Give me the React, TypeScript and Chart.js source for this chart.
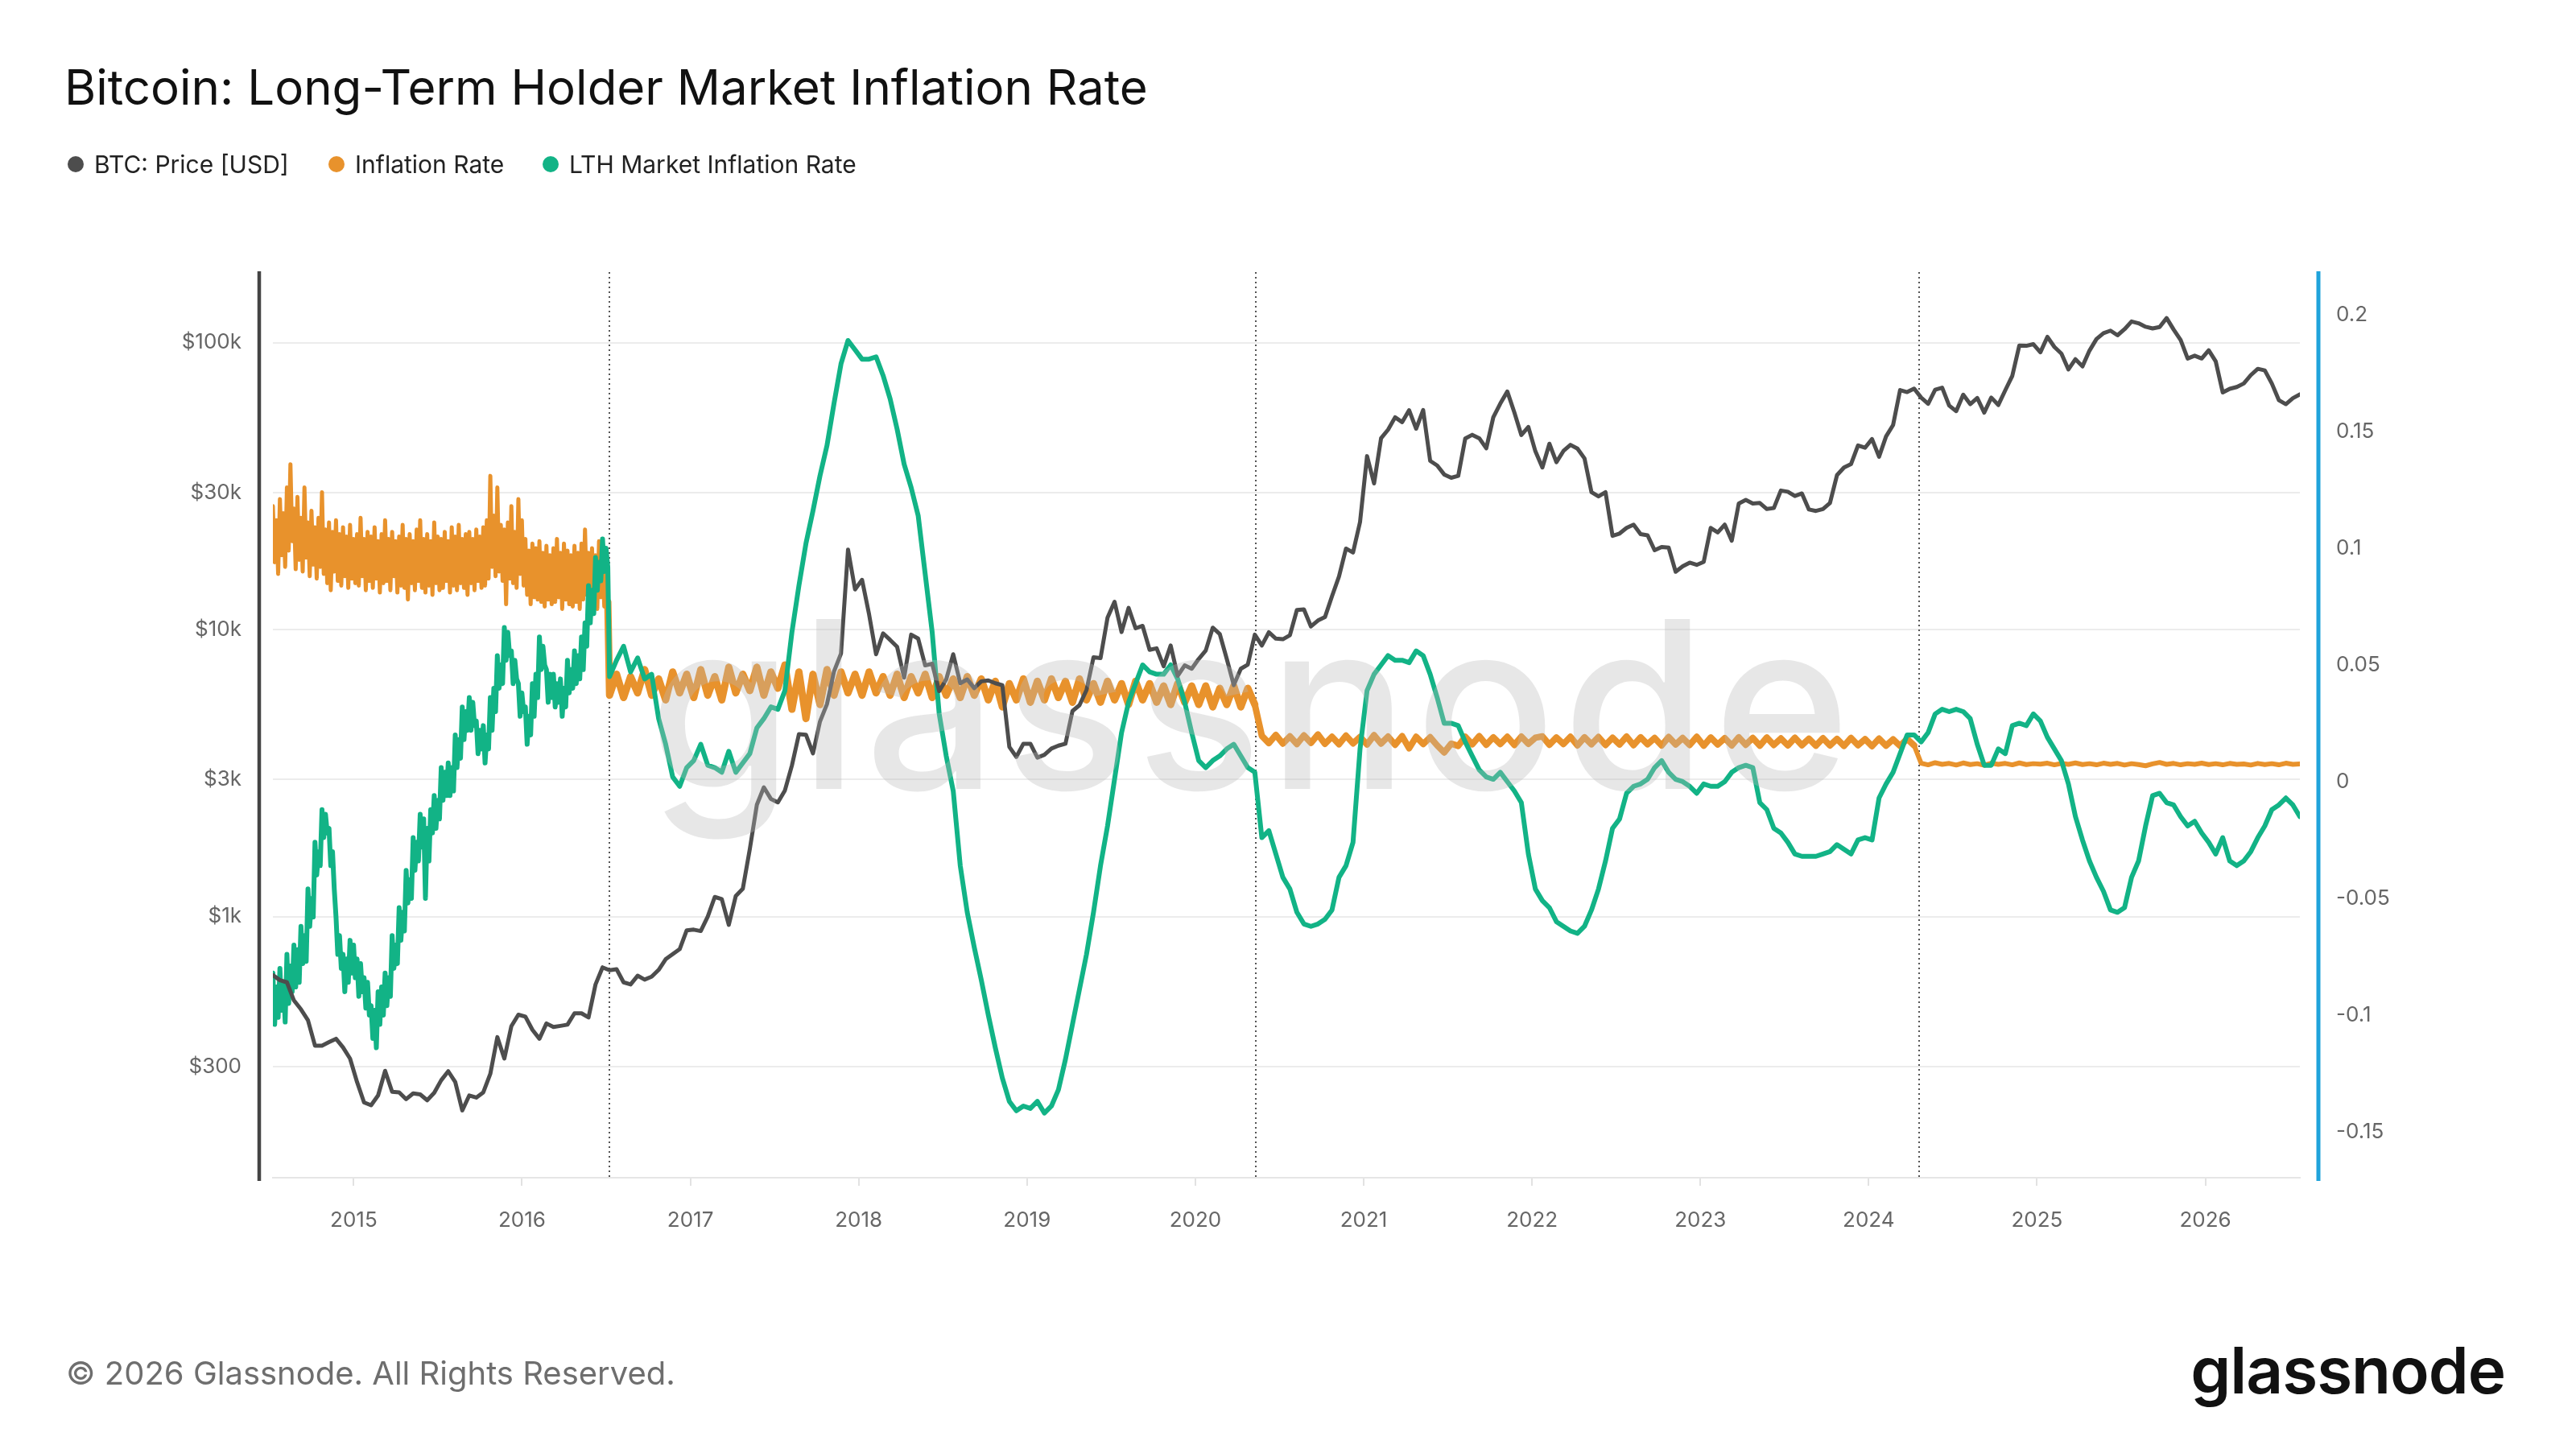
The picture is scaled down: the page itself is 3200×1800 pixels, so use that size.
import React, { useEffect, useRef } from 'react';
import { Chart, registerables } from 'chart.js';

Chart.register(...registerables);

// Half-monthly sampling starting 9 Jul 2014 (decimal years)
const START_YEAR = 2014.52;
const STEP_YEARS = 1 / 24;
// Dense sampling (~3.8 days) for the noisy first epoch, 2014.52 - 2016.52
const DENSE_STEP_YEARS = 1 / 96;
const LATER_START_YEAR = 2014.52 + 48 / 24;

const btcPrice = [
  // 2014 Jul-Dec
  625, 600, 590, 510, 475, 435, 355, 355, 365, 375, 350, 320,
  // 2015
  265, 225, 220, 238, 290, 245, 244, 231, 242, 240, 229, 243,
  269, 289, 265, 211, 238, 234, 244, 283, 380, 320, 415, 455,
  // 2016
  448, 403, 375, 424, 412, 416, 420, 460, 460, 445, 580, 665,
  650, 655, 590, 580, 622, 603, 617, 652, 710, 740, 770, 895,
  // 2017
  900, 890, 1000, 1170, 1150, 935, 1180, 1250, 1720, 2450, 2820, 2570,
  2500, 2750, 3360, 4320, 4300, 3700, 4780, 5500, 7140, 8250, 19000, 13800,
  // 2018
  14900, 11300, 8200, 9700, 9200, 8700, 6800, 9600, 9300, 7500, 7600, 6100,
  6700, 8200, 6500, 6700, 6250, 6600, 6650, 6500, 6400, 3900, 3600, 4000,
  // 2019
  4000, 3580, 3660, 3850, 3940, 4000, 5200, 5450, 6150, 8000, 7950, 11000,
  12500, 9800, 11900, 10100, 10300, 8500, 8600, 7450, 8800, 6900, 7500, 7300,
  // 2020
  7900, 8450, 10150, 9650, 7900, 6400, 7300, 7550, 9600, 8800, 9780, 9300,
  9250, 9550, 11700, 11750, 10250, 10750, 11050, 13050, 15300, 19150, 18550, 23700,
  // 2021
  40200, 32300, 46400, 49700, 54900, 52800, 58100, 50100, 58200, 38700, 37300, 34700,
  33800, 34300, 46300, 47700, 46400, 42800, 54900, 61300, 67500, 57100, 47600, 50800,
  // 2022
  41800, 36700, 44400, 38300, 41900, 44000, 42700, 39500, 30100, 29100, 30100, 21200,
  21600, 22600, 23200, 21500, 21300, 18900, 19400, 19300, 15900, 16600, 17100, 16800,
  // 2023
  17200, 22600, 21800, 23200, 20400, 27500, 28300, 27500, 27600, 26300, 26500, 30500,
  30200, 29200, 29800, 26200, 25900, 26300, 27600, 34500, 36700, 37700, 43800, 43000,
  // 2024
  46100, 40000, 47100, 51600, 68300, 67200, 69100, 64300, 61200, 68500, 69600, 60300,
  57700, 65800, 61000, 64100, 57000, 64300, 60600, 68200, 76600, 97700, 97400, 98700,
  // 2025
  92500, 104700, 96500, 91500, 80600, 87500, 82600, 93700, 102900, 107800, 110000, 106000,
  111300, 118400, 116700, 113500, 112000, 113300, 121700, 111000, 102000, 88000, 90000, 88000,
  // 2026 Jan-Jul
  94000, 86000, 67000, 69000, 70000, 72000, 77000, 81000, 80000, 72000, 63000, 61000, 64000, 66000,
];

// Inflation rate, first epoch (dense), one row per month
const inflationRateEarly = [
  0.118, 0.094, 0.112, 0.089, 0.121, 0.097, 0.115, 0.092,
  0.126, 0.099, 0.136, 0.103, 0.117, 0.091, 0.122, 0.095,
  0.113, 0.090, 0.126, 0.096, 0.111, 0.088, 0.116, 0.093,
  0.109, 0.087, 0.113, 0.092, 0.124, 0.089, 0.108, 0.085,
  0.111, 0.082, 0.107, 0.090, 0.112, 0.086, 0.106, 0.084,
  0.109, 0.088, 0.105, 0.083, 0.110, 0.087, 0.104, 0.085,
  0.106, 0.084, 0.113, 0.088, 0.104, 0.082, 0.107, 0.086,
  0.105, 0.083, 0.109, 0.087, 0.103, 0.081, 0.106, 0.085,
  0.112, 0.086, 0.104, 0.082, 0.107, 0.088, 0.103, 0.081,
  0.105, 0.084, 0.110, 0.083, 0.104, 0.078, 0.106, 0.085,
  0.103, 0.082, 0.108, 0.086, 0.112, 0.083, 0.104, 0.081,
  0.106, 0.084, 0.103, 0.080, 0.111, 0.085, 0.105, 0.082,
  0.104, 0.083, 0.107, 0.086, 0.103, 0.081, 0.109, 0.084,
  0.105, 0.082, 0.110, 0.085, 0.104, 0.083, 0.106, 0.080,
  0.107, 0.085, 0.104, 0.082, 0.108, 0.086, 0.105, 0.083,
  0.109, 0.084, 0.112, 0.087, 0.131, 0.092, 0.114, 0.088,
  0.126, 0.090, 0.110, 0.086, 0.108, 0.076, 0.111, 0.087,
  0.118, 0.085, 0.107, 0.083, 0.121, 0.089, 0.112, 0.084,
  0.104, 0.080, 0.099, 0.076, 0.102, 0.079, 0.100, 0.078,
  0.103, 0.077, 0.098, 0.075, 0.101, 0.078, 0.097, 0.076,
  0.100, 0.077, 0.104, 0.079, 0.098, 0.074, 0.102, 0.078,
  0.099, 0.076, 0.097, 0.075, 0.101, 0.077, 0.098, 0.074,
  0.102, 0.078, 0.108, 0.080, 0.098, 0.075, 0.100, 0.077,
  0.097, 0.074, 0.103, 0.079, 0.096, 0.075, 0.099, 0.077,
];

// Inflation rate from the 2016 halving on (half-monthly)
const inflationRate = [
  // 2016 - 2020 epoch
  0.037, 0.046, 0.036, 0.045, 0.038, 0.048, 0.037, 0.044, 0.035, 0.047,
  0.038, 0.046, 0.036, 0.048, 0.037, 0.045, 0.035, 0.049, 0.038, 0.046,
  0.039, 0.049, 0.037, 0.047, 0.040, 0.050, 0.031, 0.047, 0.027, 0.046,
  0.033, 0.048, 0.037, 0.047, 0.038, 0.046, 0.037, 0.047, 0.038, 0.045,
  0.037, 0.046, 0.036, 0.045, 0.038, 0.046, 0.036, 0.045, 0.037, 0.044,
  0.036, 0.045, 0.037, 0.044, 0.035, 0.043, 0.032, 0.042, 0.035, 0.044,
  0.034, 0.043, 0.035, 0.044, 0.036, 0.043, 0.034, 0.044, 0.035, 0.042,
  0.034, 0.043, 0.035, 0.042, 0.033, 0.043, 0.035, 0.042, 0.034, 0.041,
  0.033, 0.042, 0.034, 0.041, 0.033, 0.041, 0.032, 0.040, 0.033, 0.041,
  0.032, 0.040, 0.033,
  // 2020 - 2024 epoch
  0.0196, 0.0165, 0.0200, 0.0163, 0.0194, 0.0161, 0.0198, 0.0166, 0.0202, 0.0162,
  0.0192, 0.0160, 0.0197, 0.0164, 0.0191, 0.0159, 0.0199, 0.0163, 0.0193, 0.0158,
  0.0195, 0.0143, 0.0192, 0.0161, 0.0190, 0.0155, 0.0125, 0.0163, 0.0153, 0.0192,
  0.0160, 0.0195, 0.0158, 0.0190, 0.0161, 0.0192, 0.0157, 0.0193, 0.0162, 0.0188,
  0.0194, 0.0158, 0.0189, 0.0161, 0.0192, 0.0155, 0.0190, 0.0160, 0.0191, 0.0157,
  0.0188, 0.0159, 0.0193, 0.0156, 0.0190, 0.0160, 0.0187, 0.0155, 0.0191, 0.0159,
  0.0187, 0.0157, 0.0192, 0.0154, 0.0189, 0.0159, 0.0186, 0.0155, 0.0190, 0.0158,
  0.0187, 0.0154, 0.0189, 0.0157, 0.0185, 0.0155, 0.0188, 0.0156, 0.0184, 0.0154,
  0.0186, 0.0155, 0.0183, 0.0153, 0.0187, 0.0156, 0.0182, 0.0152, 0.0184, 0.0154,
  0.0181, 0.0153, 0.0183, 0.0155,
  // 2024 - epoch
  0.0079, 0.0072, 0.0081, 0.0074, 0.0078, 0.0071, 0.0080, 0.0073, 0.0077, 0.0070,
  0.0079, 0.0074, 0.0078, 0.0072, 0.0080, 0.0073, 0.0077, 0.0075, 0.0079, 0.0072,
  0.0078, 0.0074, 0.0080, 0.0073, 0.0077, 0.0072, 0.0079, 0.0074, 0.0078, 0.0071,
  0.0077, 0.0073, 0.0068, 0.0076, 0.0082, 0.0074, 0.0078, 0.0072, 0.0077, 0.0074,
  0.0079, 0.0073, 0.0077, 0.0072, 0.0078, 0.0074, 0.0076, 0.0071, 0.0078, 0.0073,
  0.0077, 0.0072, 0.0079, 0.0074, 0.0076,
];

// LTH market inflation rate, first epoch (dense), one row per half month
const lthInflationRateEarly = [
  -0.082, -0.104, -0.088, -0.101, -0.080, -0.098, -0.086, -0.103,
  -0.074, -0.095, -0.079, -0.090, -0.070, -0.088, -0.072, -0.086,
  -0.062, -0.078, -0.066, -0.077, -0.046, -0.062, -0.050, -0.058,
  -0.026, -0.040, -0.030, -0.036, -0.012, -0.024, -0.014, -0.022,
  -0.020, -0.036, -0.030, -0.046, -0.058, -0.074, -0.066, -0.080,
  -0.074, -0.090, -0.076, -0.086, -0.068, -0.082, -0.070, -0.084,
  -0.076, -0.092, -0.078, -0.090, -0.084, -0.097, -0.086, -0.100,
  -0.096, -0.110, -0.098, -0.114, -0.090, -0.104, -0.088, -0.100,
  -0.082, -0.096, -0.084, -0.092, -0.066, -0.080, -0.070, -0.078,
  -0.054, -0.068, -0.056, -0.064, -0.038, -0.052, -0.042, -0.050,
  -0.024, -0.038, -0.026, -0.034, -0.014, -0.028, -0.016, -0.050,
  -0.020, -0.034, -0.012, -0.022, -0.006, -0.020, -0.008, -0.016,
  0.006, -0.008, 0.004, -0.006, 0.008, -0.006, 0.006, -0.004,
  0.020, 0.006, 0.018, 0.010, 0.032, 0.018, 0.030, 0.022,
  0.036, 0.022, 0.034, 0.024, 0.026, 0.012, 0.022, 0.014,
  0.024, 0.008, 0.020, 0.014, 0.036, 0.022, 0.040, 0.030,
  0.054, 0.040, 0.050, 0.042, 0.066, 0.052, 0.064, 0.054,
  0.056, 0.042, 0.052, 0.044, 0.042, 0.028, 0.038, 0.030,
  0.032, 0.016, 0.028, 0.020, 0.042, 0.028, 0.046, 0.036,
  0.062, 0.048, 0.058, 0.050, 0.048, 0.034, 0.046, 0.036,
  0.046, 0.032, 0.042, 0.034, 0.044, 0.028, 0.040, 0.032,
  0.052, 0.038, 0.048, 0.040, 0.056, 0.042, 0.054, 0.044,
  0.062, 0.048, 0.068, 0.058, 0.084, 0.068, 0.082, 0.072,
  0.096, 0.082, 0.094, 0.086, 0.104, 0.090, 0.100, 0.092,
];

// LTH market inflation rate from the 2016 halving on (half-monthly)
const lthInflationRate = [
  0.045, 0.052,
  0.058, 0.047, 0.053, 0.044, 0.046, 0.027, 0.016, 0.002, -0.002, 0.006,
  0.009, 0.016, 0.007, 0.006, 0.004, 0.013, 0.004, 0.008, 0.012, 0.023,
  0.027, 0.032,
  0.031, 0.039, 0.064, 0.084, 0.102, 0.116, 0.131, 0.144, 0.162, 0.179,
  0.189, 0.185, 0.181, 0.181, 0.182, 0.174, 0.164, 0.151, 0.136, 0.126,
  0.114, 0.089, 0.064, 0.029, 0.011, -0.004, -0.036, -0.056, -0.071, -0.085,
  -0.100, -0.114, -0.127, -0.137, -0.141, -0.139, -0.140, -0.137, -0.142, -0.139,
  -0.132, -0.119, -0.104, -0.089, -0.074, -0.056, -0.036, -0.019, 0.001, 0.021,
  0.034, 0.042, 0.050, 0.047, 0.046, 0.046, 0.050, 0.044, 0.034, 0.021,
  0.009, 0.006, 0.009, 0.011, 0.014, 0.016, 0.011, 0.006, 0.004, -0.024,
  -0.021, -0.031, -0.041,
  -0.046, -0.056, -0.061, -0.062, -0.061, -0.059, -0.055, -0.041, -0.036, -0.026,
  0.014, 0.039, 0.046, 0.050, 0.054, 0.052, 0.052, 0.051, 0.056, 0.054,
  0.046, 0.036, 0.025, 0.025, 0.024, 0.017, 0.011, 0.005, 0.002, 0.001,
  0.004, 0.000, -0.004, -0.009, -0.031, -0.046, -0.051, -0.054, -0.060, -0.062,
  -0.064, -0.065, -0.062, -0.055, -0.046, -0.034, -0.020, -0.016, -0.005, -0.002,
  -0.001, 0.001, 0.006, 0.009, 0.004, 0.001, 0.000, -0.002, -0.005, -0.001,
  -0.002, -0.002, 0.000, 0.004, 0.006, 0.007, 0.006, -0.009, -0.012, -0.020,
  -0.022, -0.026, -0.031, -0.032,
  -0.032, -0.032, -0.031, -0.030, -0.027, -0.029, -0.031, -0.025, -0.024, -0.025,
  -0.007, -0.001, 0.004, 0.012, 0.020, 0.020, 0.017, 0.021, 0.029, 0.031,
  0.030, 0.031, 0.030, 0.027, 0.016, 0.007, 0.007, 0.014, 0.012, 0.024,
  0.025, 0.024, 0.029, 0.026, 0.019, 0.014, 0.009, -0.001, -0.015, -0.025,
  -0.034, -0.041, -0.047, -0.055, -0.056, -0.054, -0.041, -0.034, -0.019, -0.006,
  -0.005, -0.009, -0.010, -0.015, -0.019, -0.017, -0.022, -0.026, -0.031, -0.024,
  -0.034, -0.036, -0.034, -0.030, -0.024, -0.019, -0.012, -0.010, -0.007, -0.010, -0.015,
];

const yearTicks = [2015, 2016, 2017, 2018, 2019, 2020, 2021, 2022, 2023, 2024, 2025, 2026];
const priceTicks = [300, 1000, 3000, 10000, 30000, 100000];
const priceTickLabels = ['$300', '$1k', '$3k', '$10k', '$30k', '$100k'];
const rateTicks = [-0.15, -0.1, -0.05, 0, 0.05, 0.1, 0.15, 0.2];
const rateTickLabels = ['-0.15', '-0.1', '-0.05', '0', '0.05', '0.1', '0.15', '0.2'];
const halvings = [2016.519, 2020.358, 2024.3];
// orange line thickness per halving epoch (noise band look)
const inflationEpochWidths = [5, 9, 8, 6];

const GRAY = '#4d4d4d';
const ORANGE = '#e8922c';
const GREEN = '#12b386';

function toPoints(values: number[], start: number, step: number) {
  return values.map((v, i) => ({ x: start + i * step, y: v }));
}

function epochIndex(x: number) {
  let k = 0;
  halvings.forEach((h) => { if (x >= h - 0.001) k += 1; });
  return k;
}

const decorPlugin = {
  id: 'decor',
  beforeDatasetsDraw(chart: any) {
    const { ctx, chartArea: a, scales } = chart;
    ctx.save();
    ctx.strokeStyle = '#555';
    ctx.lineWidth = 2;
    ctx.setLineDash([2, 4]);
    halvings.forEach((h) => {
      const x = Math.round(scales.x.getPixelForValue(h));
      ctx.beginPath();
      ctx.moveTo(x, a.top);
      ctx.lineTo(x, a.bottom);
      ctx.stroke();
    });
    ctx.restore();
  },
  afterDatasetsDraw(chart: any) {
    const { ctx, chartArea: a } = chart;
    ctx.save();
    ctx.font = '500 290px Inter';
    try { (ctx as any).letterSpacing = '8px'; } catch (e) { /* ignore */ }
    ctx.fillStyle = 'rgba(185,185,185,0.34)';
    ctx.textAlign = 'center';
    ctx.textBaseline = 'alphabetic';
    ctx.fillText('glassnode', a.left + 1217, a.top + 642);
    ctx.restore();

    ctx.save();
    ctx.lineWidth = 4.5;
    ctx.strokeStyle = '#444';
    ctx.beginPath();
    ctx.moveTo(a.left - 17, a.top - 1);
    ctx.lineTo(a.left - 17, a.bottom + 4);
    ctx.stroke();
    ctx.lineWidth = 5;
    ctx.strokeStyle = '#1fa3db';
    ctx.beginPath();
    ctx.moveTo(a.right + 23, a.top - 1);
    ctx.lineTo(a.right + 23, a.bottom + 4);
    ctx.stroke();
    ctx.restore();
  },
};

const tickFont = { family: 'Inter', size: 26 };

export default function App() {
  const ref = useRef<HTMLCanvasElement>(null);

  useEffect(() => {
    document.body.style.margin = '0';
    const lineBase = {
      pointRadius: 0,
      borderJoinStyle: 'round' as const,
      borderCapStyle: 'round' as const,
      tension: 0,
      fill: false,
    };
    const orangePoints = toPoints(inflationRateEarly, START_YEAR, DENSE_STEP_YEARS).concat(
      toPoints(inflationRate, LATER_START_YEAR, STEP_YEARS)
    );
    const greenPoints = toPoints(lthInflationRateEarly, START_YEAR, DENSE_STEP_YEARS).concat(
      toPoints(lthInflationRate, LATER_START_YEAR, STEP_YEARS)
    );
    const chart = new Chart(ref.current as HTMLCanvasElement, {
      type: 'line',
      data: {
        datasets: [
          { ...lineBase, label: 'BTC: Price [USD]', data: toPoints(btcPrice, START_YEAR, STEP_YEARS), yAxisID: 'yPrice', borderColor: GRAY, borderWidth: 5 },
          { ...lineBase, label: 'LTH Market Inflation Rate', data: greenPoints, yAxisID: 'yRate', borderColor: GREEN, borderWidth: 6 },
          {
            ...lineBase,
            label: 'Inflation Rate',
            data: orangePoints,
            yAxisID: 'yRate',
            borderColor: ORANGE,
            borderWidth: 5,
            segment: {
              borderWidth: (c: any) => inflationEpochWidths[epochIndex(c.p1.parsed.x)],
            },
          },
        ],
      },
      options: {
        responsive: false,
        animation: false,
        devicePixelRatio: 1,
        layout: { padding: { top: 338, left: 0, right: 0, bottom: 0 } },
        plugins: {
          legend: { display: false },
          tooltip: { enabled: false },
          title: { display: false },
        },
        scales: {
          x: {
            type: 'linear',
            min: START_YEAR,
            max: START_YEAR + (btcPrice.length - 1) * STEP_YEARS,
            afterFit: (s: any) => { s.height = 337; },
            afterBuildTicks: (s: any) => { s.ticks = yearTicks.map((v) => ({ value: v })); },
            ticks: {
              callback: (v: any) => String(v),
              color: '#666',
              font: tickFont,
              padding: 28,
              maxRotation: 0,
              autoSkip: false,
            },
            grid: { drawOnChartArea: false, drawTicks: true, tickLength: 10, color: '#e2e2e2', lineWidth: 2 },
            border: { display: true, color: '#e6e6e6', width: 2 },
          },
          yPrice: {
            type: 'logarithmic',
            position: 'left',
            min: 123,
            max: 176000,
            afterFit: (s: any) => { s.width = 339; },
            afterBuildTicks: (s: any) => { s.ticks = priceTicks.map((v) => ({ value: v })); },
            ticks: {
              callback: (v: any) => priceTickLabels[priceTicks.indexOf(Number(v))] ?? '',
              color: '#666',
              font: tickFont,
              padding: 39,
              autoSkip: false,
            },
            grid: { drawTicks: false, color: '#ececec', lineWidth: 2 },
            border: { display: false },
          },
          yRate: {
            type: 'linear',
            position: 'right',
            min: -0.1697,
            max: 0.2183,
            afterFit: (s: any) => { s.width = 343; },
            afterBuildTicks: (s: any) => { s.ticks = rateTicks.map((v) => ({ value: v })); },
            ticks: {
              callback: (v: any) => {
                const idx = rateTicks.findIndex((t) => Math.abs(t - Number(v)) < 1e-9);
                return idx >= 0 ? rateTickLabels[idx] : '';
              },
              color: '#666',
              font: tickFont,
              padding: 45,
              autoSkip: false,
            },
            grid: { display: false, drawTicks: false },
            border: { display: false },
          },
        },
      } as any,
      plugins: [decorPlugin],
    });
    return () => chart.destroy();
  }, []);

  const legendItems = [
    { label: 'BTC: Price [USD]', color: GRAY, left: 84 },
    { label: 'Inflation Rate', color: ORANGE, left: 408 },
    { label: 'LTH Market Inflation Rate', color: GREEN, left: 674 },
  ];

  return (
    <div
      style={{
        position: 'relative',
        width: 3200,
        height: 1800,
        background: '#fff',
        overflow: 'hidden',
        fontFamily: 'Inter, "Noto Sans", sans-serif',
      }}
    >
      <canvas
        ref={ref}
        width={3200}
        height={1800}
        style={{ position: 'absolute', left: 0, top: 0, width: 3200, height: 1800 }}
      />
      <div
        style={{
          position: 'absolute',
          left: 80,
          top: 78,
          fontSize: 60,
          lineHeight: '60px',
          color: '#111',
          whiteSpace: 'nowrap',
        }}
      >
        Bitcoin: Long-Term Holder Market Inflation Rate
      </div>
      {legendItems.map((it) => (
        <div
          key={it.label}
          style={{
            position: 'absolute',
            left: it.left,
            top: 189,
            height: 30,
            display: 'flex',
            alignItems: 'center',
            whiteSpace: 'nowrap',
          }}
        >
          <span
            style={{
              display: 'inline-block',
              width: 20,
              height: 20,
              borderRadius: 10,
              background: it.color,
              marginRight: 13,
            }}
          />
          <span style={{ fontSize: 30, lineHeight: '30px', color: '#222' }}>{it.label}</span>
        </div>
      ))}
      <div
        style={{
          position: 'absolute',
          left: 82,
          top: 1686,
          fontSize: 40,
          lineHeight: '40px',
          color: '#6e6e6e',
          whiteSpace: 'nowrap',
        }}
      >
        © 2026 Glassnode. All Rights Reserved.
      </div>
      <div
        style={{
          position: 'absolute',
          right: 88,
          top: 1662,
          fontSize: 80,
          lineHeight: '80px',
          fontWeight: 600,
          letterSpacing: -1,
          color: '#111',
          whiteSpace: 'nowrap',
        }}
      >
        glassnode
      </div>
    </div>
  );
}
